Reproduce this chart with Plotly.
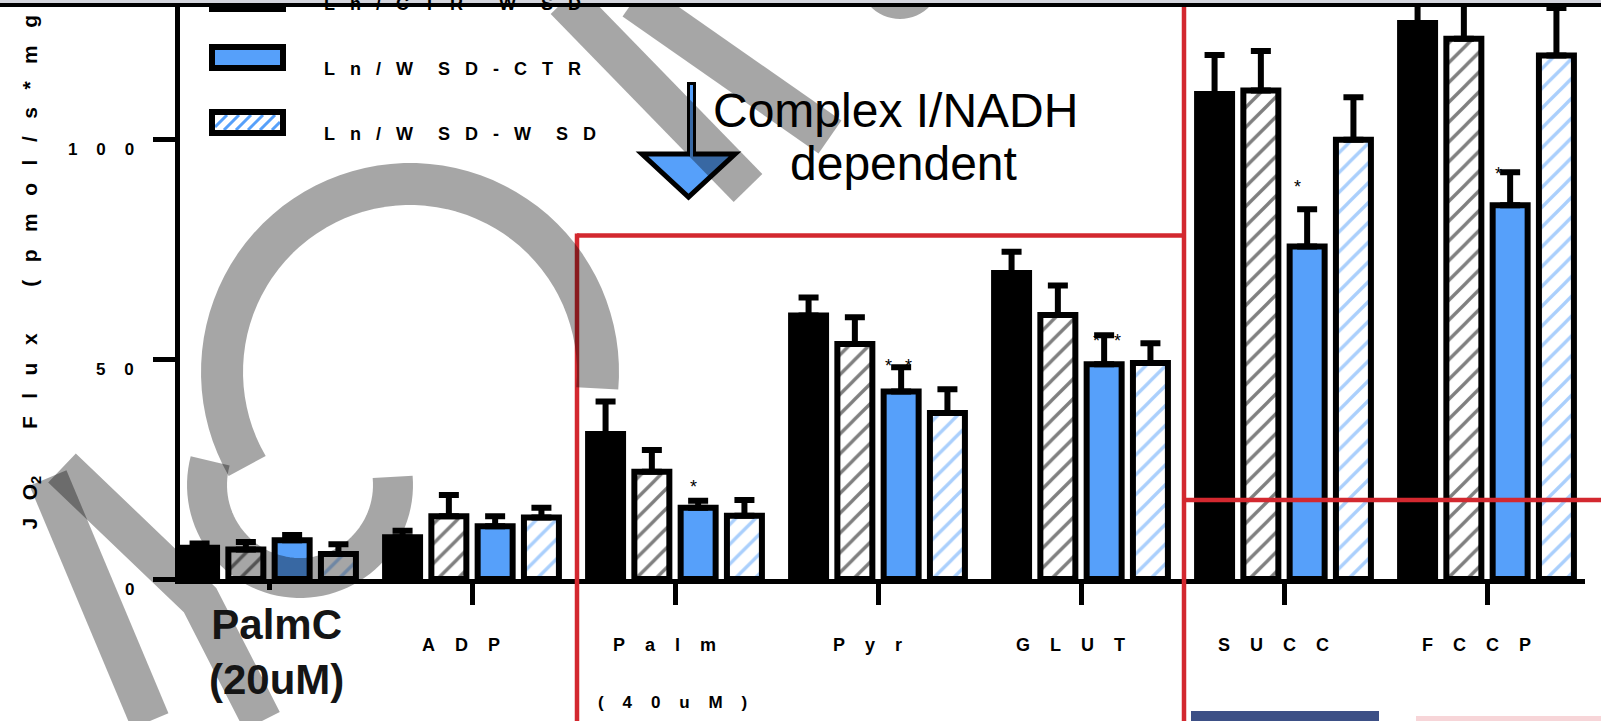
import math
import plotly.graph_objects as go

# ---- data -------------------------------------------------------------
groups = ["PalmC", "ADP", "Palm", "Pyr", "GLUT", "SUCC", "FCCP"]
series_names = ["Ln/CTR-CTR", "Ln/CTR-WSD", "Ln/WSD-CTR", "Ln/WSD-WSD"]

ctr_ctr = [7.1, 9.5, 33.0, 60.0, 69.7, 110.4, 126.6]
ctr_ctr_err = [1.0, 1.5, 7.4, 4.1, 4.8, 8.9, 6.0]
ctr_wsd = [6.7, 14.3, 24.4, 53.5, 60.1, 111.2, 123.0]
ctr_wsd_err = [1.7, 4.8, 5.0, 6.1, 6.7, 9.0, 9.0]
wsd_ctr = [8.8, 12.0, 16.2, 42.7, 48.9, 75.7, 85.1]
wsd_ctr_err = [1.2, 2.3, 1.6, 5.5, 6.6, 8.5, 7.5]
wsd_wsd = [5.7, 14.0, 14.4, 37.8, 49.2, 100.0, 119.2]
wsd_wsd_err = [2.2, 2.2, 3.6, 5.4, 4.5, 9.7, 10.8]

y_ticks = [0, 50, 100]
y_tick_text = ["0", "50", "100"]
group_labels = ["PalmC", "ADP", "Palm", "Pyr", "GLUT", "SUCC", "FCCP"]

# significance marks on the Ln/WSD-CTR bars: (group index, x shift px, y shift px)
stars = [(2, -5, 18), (3, -13, 5), (3, 7, 5), (4, -8, -2), (4, 13, -2), (5, -10, 26), (6, -12, 2)]

# ---- page geometry ----------------------------------------------------
FW, FH = 1601, 721
ML, MR, MT, MB = 180, 16, 5, 142
PW = FW - ML - MR
PH = FH - MT - MB
GROUP_PX = 203.0
PX_PER_UNIT = 4.392

BLUE = "#56A0FA"
RED = "#D3282F"
WM = "rgba(0,0,0,0.35)"
NB = "\u00a0"
FONT = "Liberation Sans, Arial, sans-serif"


def px(x):
    return (x - ML) / PW


def py(y):
    return (FH - MB - y) / PH


def spaced(s, n):
    return (NB * n).join(s)


BARGAP = 0.088
SLOT = (1 - BARGAP) / 4

fig = go.Figure()

styles = [
    dict(color="black"),
    dict(color="white", pattern=dict(shape="/", fgcolor="black", bgcolor="white", size=14, solidity=0.24)),
    dict(color=BLUE),
    dict(color="white", pattern=dict(shape="/", fgcolor=BLUE, bgcolor="white", size=14, solidity=0.24)),
]
values = [ctr_ctr, ctr_wsd, wsd_ctr, wsd_wsd]
errors = [ctr_ctr_err, ctr_wsd_err, wsd_ctr_err, wsd_wsd_err]
xs = list(range(len(groups)))

for name, vals, errs, st in zip(series_names, values, errors, styles):
    fig.add_trace(go.Bar(
        x=xs, y=vals, name=name, showlegend=False,
        marker=dict(line=dict(color="black", width=6), **st),
        error_y=dict(type="data", array=errs, arrayminus=[0] * len(errs), symmetric=False,
                     color="black", thickness=6, width=10),
    ))

fig.update_layout(
    width=FW, height=FH, autosize=False,
    margin=dict(l=ML, r=MR, t=MT, b=MB, pad=0),
    paper_bgcolor="white", plot_bgcolor="white",
    barmode="group", bargap=BARGAP, bargroupgap=0.244,
    font=dict(family=FONT, color="black"),
    xaxis=dict(range=[-89 / GROUP_PX, 6 + 98 / GROUP_PX], showgrid=False, zeroline=False,
               showline=True, linecolor="black", linewidth=5,
               ticks="outside", ticklen=21, tickwidth=5, tickcolor="black",
               tickvals=xs, showticklabels=False),
    yaxis=dict(range=[0, PH / PX_PER_UNIT], showgrid=False, zeroline=False,
               showline=True, linecolor="black", linewidth=5,
               ticks="outside", ticklen=22, tickwidth=5, tickcolor="black",
               tickvals=y_ticks, showticklabels=False),
)

ann = []
# y tick labels
for v, t in zip(y_ticks, y_tick_text):
    ann.append(dict(x=px(136), y=v, xref="paper", yref="y", xanchor="right", yanchor="middle",
                    yshift=-10, text="<b>%s</b>" % spaced(t, 4), showarrow=False,
                    font=dict(size=17, family=FONT)))

# y axis title
title = ("J" + NB * 3 + "O<sub>2</sub>" + NB * 8 + spaced("Flux", 3) + NB * 8
         + spaced("(pmol/s*mg)", 3))
ann.append(dict(x=px(30), y=py(532), xref="paper", yref="paper", xanchor="center", yanchor="bottom",
                textangle=-90, text="<b>%s</b>" % title, showarrow=False,
                font=dict(size=21, family=FONT)))

# group labels
for i, g in enumerate(group_labels):
    if i == 0:
        continue
    ann.append(dict(x=i, y=py(645), xref="x", yref="paper", xanchor="center", yanchor="middle",
                    xshift=-11, text="<b>%s</b>" % spaced(g, 4), showarrow=False,
                    font=dict(size=18, family=FONT)))
ann.append(dict(x=2, y=py(702), xref="x", yref="paper", xanchor="center", yanchor="middle",
                xshift=-3, text="<b>%s</b>" % spaced("(40uM)", 4), showarrow=False,
                font=dict(size=17, family=FONT)))
ann.append(dict(x=0, y=py(652), xref="x", yref="paper", xanchor="center", yanchor="middle",
                xshift=7, text="<b>PalmC<br>(20uM)</b>", showarrow=False,
                font=dict(size=42, family=FONT, color="#151515")))

# significance stars
for gi, dx, dy in stars:
    ann.append(dict(x=gi + 0.5 * SLOT, y=wsd_ctr[gi] + wsd_ctr_err[gi], xref="x", yref="y",
                    xanchor="center", yanchor="middle", xshift=dx, yshift=dy - 4,
                    text="*", showarrow=False, font=dict(size=18, family=FONT)))

# arrow caption
ann.append(dict(x=px(896), y=py(110), xref="paper", yref="paper", xanchor="center", yanchor="middle",
                text="Complex I/NADH", showarrow=False, font=dict(size=48, family=FONT)))
ann.append(dict(x=px(903), y=py(164), xref="paper", yref="paper", xanchor="center", yanchor="middle",
                text="dependent", showarrow=False, font=dict(size=48, family=FONT)))

# legend text
legend_rows = [("Ln/CTR-WSD", 4), ("Ln/WSD-CTR", 69), ("Ln/WSD-WSD", 134)]
for lab, yc in legend_rows:
    txt = ""
    for k, ch in enumerate(lab):
        txt += ch
        if k < len(lab) - 1:
            txt += NB * (5 if ch == "W" else 3)
    ann.append(dict(x=px(322), y=py(yc), xref="paper", yref="paper", xanchor="left", yanchor="middle",
                    text="<b>%s</b>" % txt, showarrow=False, font=dict(size=18, family=FONT)))

fig.update_layout(annotations=ann)

shapes = []


def rect(x0, y0, x1, y1, fill, line_color=None, lw=0):
    return dict(type="rect", xref="paper", yref="paper", x0=px(x0), x1=px(x1), y0=py(y1), y1=py(y0),
                fillcolor=fill, line=dict(color=line_color or fill, width=lw))


def poly(points, color, w):
    path = "M" + " L".join("%.5f,%.5f" % (px(a), py(b)) for a, b in points)
    return dict(type="path", xref="paper", yref="paper", path=path, line=dict(color=color, width=w))


def arc(cx, cy, r, a0, a1, color, w, n=60):
    pts = []
    for k in range(n + 1):
        a = math.radians(a0 + (a1 - a0) * k / n)
        pts.append((cx + r * math.cos(a), cy + r * math.sin(a)))
    return poly(pts, color, w)


def stripes(x0, y0, x1, y1, pitch, color, w):
    h = y1 - y0
    segs = []
    s = x0 - h
    while s < x1:
        a = max(x0, s)
        b = min(x1, s + h)
        if b > a:
            ya = y1 - (a - s)
            yb = y1 - (b - s)
            segs.append("M%.5f,%.5f L%.5f,%.5f" % (px(a), py(ya), px(b), py(yb)))
        s += pitch
    return dict(type="path", xref="paper", yref="paper", path=" ".join(segs),
                line=dict(color=color, width=w))


# white patch under the PalmC caption, hiding the lower part of its tick
shapes.append(rect(200, 590, 352, 712, "white"))

# legend swatches
shapes.append(rect(212, -12, 283, 9, "white"))
shapes.append(stripes(215, -9, 280, 6, 12, "black", 3))
shapes.append(rect(212, -12, 283, 9, "rgba(0,0,0,0)", "black", 6))
shapes.append(rect(212, 47, 283, 68, BLUE, "black", 6))
shapes.append(rect(212, 112, 283, 133, "white"))
shapes.append(stripes(215, 115, 280, 130, 12, BLUE, 3))
shapes.append(rect(212, 112, 283, 133, "rgba(0,0,0,0)", "black", 6))

# arrow
tri = "M%.5f,%.5f L%.5f,%.5f L%.5f,%.5f Z" % (px(642), py(154), px(735), py(154), px(688.5), py(197))
shapes.append(dict(type="path", xref="paper", yref="paper", path=tri, fillcolor=BLUE,
                   line=dict(color="black", width=5)))
shapes.append(rect(687, 82, 696, 152, "black"))
shapes.append(rect(690, 85, 693, 158, BLUE))

# red outlines
def hline(x0, x1, y):
    return dict(type="line", xref="paper", yref="paper", x0=px(x0), x1=px(x1), y0=py(y), y1=py(y),
                line=dict(color=RED, width=4.5))


def vline(x, y0, y1):
    return dict(type="line", xref="paper", yref="paper", x0=px(x), x1=px(x), y0=py(y0), y1=py(y1),
                line=dict(color=RED, width=4.5))


shapes.append(vline(577, 233.5, 721))
shapes.append(hline(577, 1184, 235.5))
shapes.append(vline(1184, 0, 721))
shapes.append(hline(1184, 1601, 500))

# bottom strips
shapes.append(rect(1191, 711, 1379, 722, "#3D5086"))
shapes.append(rect(1416, 716, 1601, 722, "#F7D5D8"))

# translucent watermark strokes
shapes.append(arc(410, 372, 188, 150, 365, WM, 42))
shapes.append(arc(300, 485, 93, -5, 195, WM, 40))
shapes.append(poly([(48, 478), (150, 721)], WM, 40))
shapes.append(poly([(62, 468), (200, 600), (262, 721)], WM, 40))
shapes.append(poly([(565, 0), (748, 188)], WM, 40))
shapes.append(poly([(634, 0), (830, 137)], WM, 40))
shapes.append(arc(900, -22, 26, 0, 180, WM, 30, n=30))

# top frame
shapes.append(rect(0, -1, 1601, 3, "#D4D5DD"))
shapes.append(rect(0, 3, 1601, 7, "black"))

fig.update_layout(shapes=shapes)

fig.write_html("out.html")
